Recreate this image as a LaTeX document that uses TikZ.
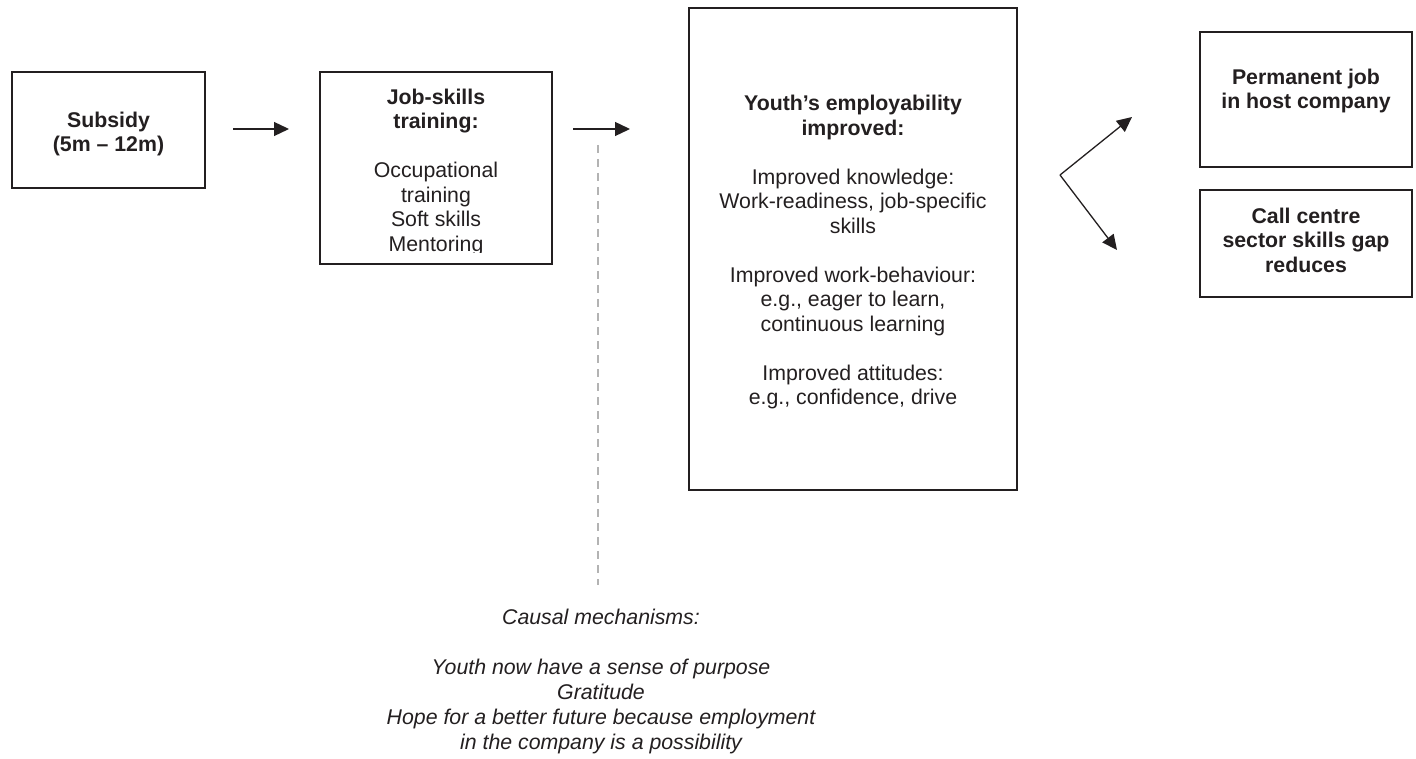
\documentclass[tikz,border=0pt]{standalone}
\usepackage{fontspec}
\setmainfont{Liberation Sans}
\usetikzlibrary{arrows.meta}
\definecolor{ink}{HTML}{231F20}
\definecolor{dashgray}{HTML}{B3B3B3}
\begin{document}
\begin{tikzpicture}[x=1pt,y=-1pt,
  box/.style={draw=ink, line width=2.2pt, inner sep=0pt, outer sep=0pt},
  txt/.style={align=center, inner sep=0pt, text=ink,
    font=\fontsize{21.3}{24.5}\selectfont},
  flow/.style={draw=ink, line width=1.3pt, -{Triangle[length=15pt,width=14pt]}},
  mech/.style={draw=dashgray, line width=1.4pt, dash pattern=on 8pt off 6pt}]
\useasboundingbox (0,0) rectangle (1416,759);

% boxes of the causal chain
\node[box, minimum width=193pt, minimum height=116pt] (sub) at (108.5,130) {};
\node[box, minimum width=232pt, minimum height=192pt] (job) at (436,168) {};
\node[box, minimum width=328pt, minimum height=482pt] (youth) at (853,249) {};
\node[box, minimum width=212pt, minimum height=135pt] (perm) at (1306,99.5) {};
\node[box, minimum width=212pt, minimum height=107pt] (call) at (1306,243.5) {};

% box texts
\node[txt] (subtxt) at (108.5,134) {\bfseries Subsidy\\\bfseries(5m – 12m)};
\begin{scope}
  \clip (322,74) rectangle (550,252.5);
  \node[txt] (jobtxt) at (436,172) {\bfseries Job-skills\\\bfseries training:\\[24.5pt]
    Occupational\\training\\Soft skills\\Mentoring};
\end{scope}
\node[txt] (youthtxt) at (853,252) {\bfseries Youth’s employability\\\bfseries improved:\\[24.5pt]
  Improved knowledge:\\Work-readiness, job-specific\\skills\\[24.5pt]
  Improved work-behaviour:\\e.g., eager to learn,\\continuous learning\\[24.5pt]
  Improved attitudes:\\e.g., confidence, drive};
\node[txt] (permtxt) at (1306,91) {\bfseries Permanent job\\\bfseries in host company};
\node[txt] (calltxt) at (1306,240) {\bfseries Call centre\\\bfseries sector skills gap\\\bfseries reduces};

% causal mechanisms note
\node[txt, font=\fontsize{21.3}{25}\selectfont\itshape] (causal) at (601,681.5)
  {Causal mechanisms:\\[25pt]
   Youth now have a sense of purpose\\Gratitude\\
   Hope for a better future because employment\\in the company is a possibility};

% connectors
\coordinate (a1s) at (233,129);
\coordinate (a1e) at (289,129);
\coordinate (a2s) at (573,129);
\coordinate (a2e) at (630,129);
\coordinate (fork) at (1060,175);
\coordinate (upTip) at (1132,117);
\coordinate (downTip) at (1117,250);
\coordinate (mechTop) at (598,145);
\coordinate (mechBot) at (598,585);

\draw[flow] (a1s) -- (a1e);
\draw[flow] (a2s) -- (a2e);
\draw[flow] (fork) -- (upTip);
\draw[flow] (fork) -- (downTip);
\draw[mech] (mechTop) -- (mechBot);
\end{tikzpicture}
\end{document}
